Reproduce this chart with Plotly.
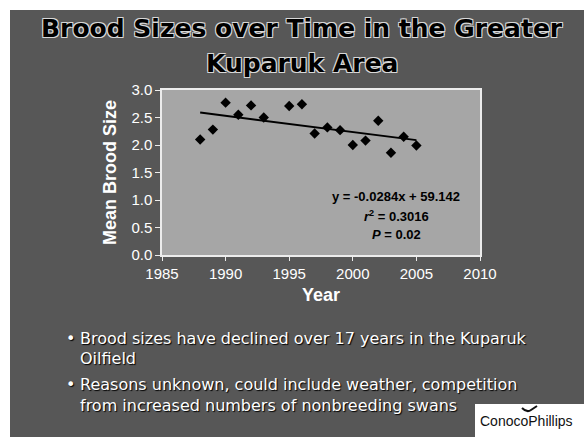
import numpy as np
import plotly.graph_objects as go

# Mean brood size per survey year (1994 not surveyed)
years = [1988, 1989, 1990, 1991, 1992, 1993, 1995, 1996, 1997,
         1998, 1999, 2000, 2001, 2002, 2003, 2004, 2005]
brood = [2.10, 2.28, 2.77, 2.55, 2.72, 2.50, 2.71, 2.74, 2.21,
         2.32, 2.27, 2.00, 2.08, 2.44, 1.86, 2.15, 1.99]

x_ticks = [1985, 1990, 1995, 2000, 2005, 2010]
y_ticks = [0.0, 0.5, 1.0, 1.5, 2.0, 2.5, 3.0]

title_lines = ["Brood Sizes over Time in the Greater", "Kuparuk Area"]
equation_lines = ["y = -0.0284x + 59.142", "<i>r</i><sup>2</sup> = 0.3016", "<i>P</i> = 0.02"]
bullets = [
    ["Brood sizes have declined over 17 years in the Kuparuk", "Oilfield"],
    ["Reasons unknown, could include weather, competition",
     "from increased numbers of nonbreeding swans"],
]

# least-squares trend line
slope, intercept = np.polyfit(years, brood, 1)
trend_x = [min(years), max(years)]
trend_y = [slope * x + intercept for x in trend_x]

W, H = 584, 437
PL, PR, PT, PB = 162, 480, 90, 255   # plot box in pixels


def px(x):
    return (x - PL) / (PR - PL)


def py(y):
    return (PB - y) / (PB - PT)


SLIDE = "#575757"
PANEL = "#a6a6a6"
FRAME = "#ececec"

fig = go.Figure()
fig.add_trace(go.Scatter(
    x=trend_x, y=trend_y, mode="lines",
    line=dict(color="black", width=2), hoverinfo="skip", showlegend=False))
fig.add_trace(go.Scatter(
    x=years, y=brood, mode="markers",
    marker=dict(symbol="diamond", size=8, color="black"), showlegend=False))

annotations = []
# slide title: black lettering with a pale outline
outline = "1px 1px 0 #d8d8d8, -1px -1px 0 #d8d8d8, 1px -1px 0 #d8d8d8, -1px 1px 0 #d8d8d8"
for text, ypix in zip(title_lines, [28, 63]):
    annotations.append(dict(
        text=text, xref="paper", yref="paper", x=px(302), y=py(ypix),
        xanchor="center", yanchor="middle", showarrow=False,
        font=dict(family="DejaVu Sans", size=25, color="black", weight="bold", shadow=outline)))

# regression statistics
for text, yval in zip(equation_lines, [1.06, 0.715, 0.38]):
    annotations.append(dict(
        text=text, xref="x", yref="y", x=2003.4, y=yval,
        xanchor="center", yanchor="middle", showarrow=False,
        font=dict(family="Liberation Sans", size=13, color="black", weight="bold")))

# bullet points
bullet_rows = [[338, 358], [384, 405]]
for lines, rows in zip(bullets, bullet_rows):
    annotations.append(dict(
        text="•", xref="paper", yref="paper", x=px(70), y=py(rows[0]),
        xanchor="center", yanchor="middle", showarrow=False,
        font=dict(family="DejaVu Sans", size=16, color="white", shadow="1px 1px 1px #000")))
    for text, ypix in zip(lines, rows):
        annotations.append(dict(
            text=text, xref="paper", yref="paper", x=px(78), y=py(ypix),
            xanchor="left", yanchor="middle", showarrow=False,
            font=dict(family="DejaVu Sans", size=16, color="white", shadow="1px 1px 1px #000")))

# company logo text
annotations.append(dict(
    text="ConocoPhillips", xref="paper", yref="paper", x=px(526), y=py(421),
    xanchor="center", yanchor="middle", showarrow=False,
    font=dict(family="Liberation Sans", size=14, color="#111111")))

shapes = [
    # white page edges
    dict(type="rect", xref="paper", yref="paper", x0=px(0), x1=px(W + 5), y0=py(10), y1=py(-5),
         fillcolor="white", line=dict(width=0), layer="above"),
    dict(type="rect", xref="paper", yref="paper", x0=px(-5), x1=px(10), y0=py(H + 5), y1=py(-5),
         fillcolor="white", line=dict(width=0), layer="above"),
    # logo plate
    dict(type="rect", xref="paper", yref="paper", x0=px(475), x1=px(W + 5), y0=py(H + 5), y1=py(404),
         fillcolor="white", line=dict(width=0), layer="above"),
    # logo bird mark
    dict(type="path", xref="paper", yref="paper",
         path=f"M {px(522)},{py(408)} Q {px(527)},{py(413)} {px(531)},{py(410)} L {px(537)},{py(406)}",
         line=dict(color="#111111", width=2), layer="above"),
]

fig.update_layout(
    width=W, height=H, autosize=False,
    margin=dict(l=PL, r=W - PR, t=PT, b=H - PB, pad=0),
    paper_bgcolor=SLIDE, plot_bgcolor=PANEL,
    annotations=annotations, shapes=shapes,
    font=dict(family="Liberation Sans", color="white"),
)
fig.update_xaxes(
    range=[1985, 2010], tickvals=x_ticks, ticks="outside", ticklen=4, tickcolor=FRAME,
    tickfont=dict(size=15, color="white"), showgrid=False, zeroline=False,
    showline=True, linecolor=FRAME, linewidth=1.5, mirror=True,
    title=dict(text="Year", font=dict(size=18, color="white", weight="bold"), standoff=8),
)
fig.update_yaxes(
    range=[0, 3], tickvals=y_ticks, tickformat=".1f", ticks="outside", ticklen=5, tickcolor=FRAME,
    tickfont=dict(size=15, color="white"), showgrid=False, zeroline=False,
    showline=True, linecolor=FRAME, linewidth=1.5, mirror=True,
    title=dict(text="Mean Brood Size", font=dict(size=18, color="white", weight="bold"), standoff=10),
)

fig.write_html("out.html")
